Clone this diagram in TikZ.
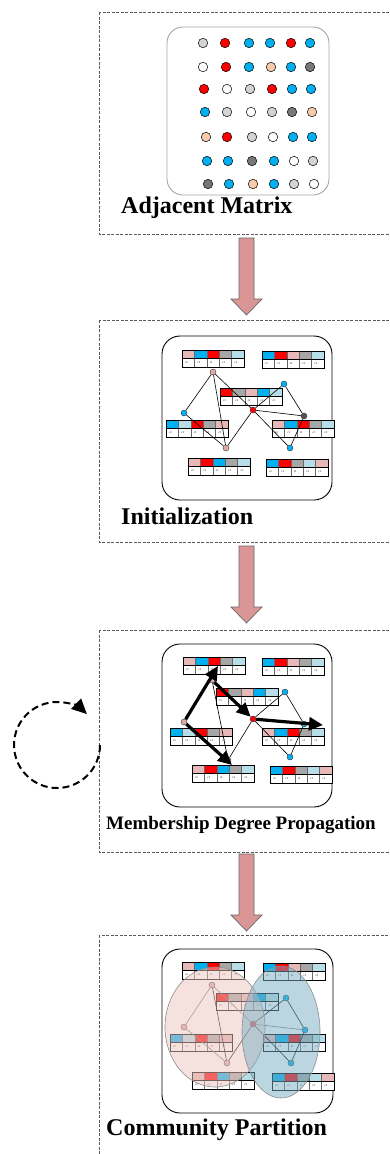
\documentclass[tikz,border=0pt]{standalone}
\usepackage{fontspec}
\setmainfont{Liberation Serif}
\usetikzlibrary{arrows.meta,shapes.geometric}
\definecolor{tpink}{RGB}{230,184,183}
\definecolor{tblue}{RGB}{0,176,240}
\definecolor{tred}{RGB}{255,0,0}
\definecolor{tgray}{RGB}{166,166,166}
\definecolor{tlblue}{RGB}{183,222,232}
\definecolor{dlgray}{RGB}{212,212,212}
\definecolor{ddgray}{RGB}{120,120,120}
\definecolor{dpeach}{RGB}{248,203,173}
\definecolor{arrowfill}{RGB}{217,150,148}
\definecolor{ellpink}{RGB}{236,196,190}
\definecolor{ellblue}{RGB}{120,175,196}
\definecolor{npink}{RGB}{222,170,168}
\definecolor{ndark}{RGB}{85,85,85}
\tikzset{
 dot/.style={circle, draw=black, line width=0.5, inner sep=0, minimum size=9.5pt},
 gnode/.style={circle, draw=black!80, line width=0.4, inner sep=0, minimum size=6pt},
 edge/.style={line width=0.6, draw=black},
 bigedge/.style={line width=3.2, draw=black, -{Triangle[length=14pt,width=13pt]}},
 dbox/.style={draw=black!65, dash pattern=on 3pt off 1.5pt, line width=0.8},
 panel/.style={draw=black, line width=0.9, rounded corners=18pt},
 mpanel/.style={draw=black!35, line width=0.9, rounded corners=16pt},
 lab/.style={font=\bfseries\fontsize{24}{24}\selectfont, anchor=base west, inner sep=0},
 blockarrow/.style={fill=arrowfill, draw=black!60, line width=0.7},
 cellt/.style={font=\fontsize{3}{3}\selectfont, inner sep=0},
 looparrow/.style={line width=2, draw=black, dash pattern=on 7pt off 4pt, -{Triangle[length=15pt,width=14pt]}},
 pics/tbl/.style n args={5}{code={
   \foreach \c [count=\i from 0] in {#1,#2,#3,#4,#5}{
     \path[fill=\c, draw=black!60, line width=0.3] (12.4*\i,0) rectangle ++(12.4,8);
     \path[fill=white, draw=black!60, line width=0.3] (12.4*\i,8) rectangle ++(12.4,9);
     \node[cellt] (-c\i) at (12.4*\i+4.5,12.5) {c1};
   }
   \draw[line width=0.8] (0,0) rectangle (62,17);
   \draw[line width=0.6] (0,8) -- (62,8);
 }},
 pics/bigarrow/.style={code={
   \path[blockarrow] (-7.5,0) -- (7.5,0) -- (7.5,61) -- (15.5,61) -- (0,77) -- (-15.5,61) -- (-7.5,61) -- cycle;
 }}
}
\begin{document}
\begin{tikzpicture}[x=1pt,y=-1pt]
\clip (0,0) rectangle (390,1154);
\fill[white] (0,0) rectangle (390,1154);

% dashed stage boxes
\draw[dbox] (99,12) rectangle (400,234);
\draw[dbox] (99,320) rectangle (400,542);
\draw[dbox] (99,630) rectangle (400,852);
\draw[dbox] (99,935) rectangle (400,1170);

% block arrows
\pic (ba1) at (246.5,238) {bigarrow};
\pic (ba2) at (246.5,546) {bigarrow};
\pic (ba3) at (246.5,854) {bigarrow};

% ---------- Adjacent matrix ----------
\draw[mpanel] (167,27) rectangle (329,195);
\foreach \x/\c [count=\k] in {203/dlgray,225/tred,249/tblue,270/tblue,291/tred,310/tblue}
  \node[dot, fill=\c] (m1\k) at (\x,43) {};
\foreach \x/\c [count=\k] in {203/white,226/tred,249/tblue,271/dpeach,291/tblue,310/ddgray}
  \node[dot, fill=\c] (m2\k) at (\x,67) {};
\foreach \x/\c [count=\k] in {204/tred,227/white,250/dlgray,272/tred,292/tblue,311/tblue}
  \node[dot, fill=\c] (m3\k) at (\x,89) {};
\foreach \x/\c [count=\k] in {205/tblue,227/dlgray,251/white,272/dlgray,292/ddgray,312/dpeach}
  \node[dot, fill=\c] (m4\k) at (\x,112) {};
\foreach \x/\c [count=\k] in {206/dpeach,227/tred,252/dlgray,273/white,293/tblue,312/tblue}
  \node[dot, fill=\c] (m5\k) at (\x,137) {};
\foreach \x/\c [count=\k] in {207/tblue,228/tblue,252/ddgray,274/tblue,294/white,313/dlgray}
  \node[dot, fill=\c] (m6\k) at (\x,161) {};
\foreach \x/\c [count=\k] in {208/ddgray,229/tblue,253/dpeach,274/tblue,294/dlgray,314/white}
  \node[dot, fill=\c] (m7\k) at (\x,184) {};
\node[lab] (lab1) at (121,213) {Adjacent Matrix};

% ---------- Initialization ----------
\draw[panel] (162,336) rectangle (332,500);
\pic (i1) at (182,350) {tbl={tpink}{tblue}{tred}{tgray}{tlblue}};
\pic (i2) at (262,351) {tbl={tblue}{tred}{tpink}{tgray}{tlblue}};
\pic (i3) at (220,388) {tbl={tred}{tgray}{tpink}{tblue}{tlblue}};
\pic (i4) at (166,420) {tbl={tblue}{tlblue}{tred}{tgray}{tpink}};
\pic (i5) at (272,420) {tbl={tpink}{tblue}{tred}{tgray}{tlblue}};
\pic (i6) at (188,458) {tbl={tpink}{tred}{tblue}{tgray}{tlblue}};
\pic (i7) at (266,459) {tbl={tblue}{tred}{tgray}{tlblue}{tpink}};
\node[gnode, fill=npink] (iA) at (213,372) {};
\node[gnode, fill=tblue] (iB) at (284,384) {};
\node[gnode, fill=tblue] (iC) at (184,413) {};
\node[gnode, fill=tred]  (iD) at (253,410) {};
\node[gnode, fill=ndark] (iE) at (304,416) {};
\node[gnode, fill=npink] (iF) at (226,448) {};
\node[gnode, fill=tblue] (iG) at (290,448) {};
\draw[edge] (iA) -- (iC);
\draw[edge] (iA) -- (iF);
\draw[edge] (iA) -- (iD);
\draw[edge] (iC) -- (iF);
\draw[edge] (iD) -- (iF);
\draw[edge] (iD) -- (iE);
\draw[edge] (iD) -- (iG);
\draw[edge] (iB) -- (iD);
\draw[edge] (iB) -- (iE);
\draw[edge] (iE) -- (iG);
\node[lab] (lab2) at (121,524) {Initialization};

% ---------- Membership degree propagation ----------
\draw[panel] (162,644) rectangle (332,807);
\pic (p1) at (183,657) {tbl={tpink}{tblue}{tred}{tgray}{tlblue}};
\pic (p2) at (262,658) {tbl={tblue}{tred}{tpink}{tgray}{tlblue}};
\pic (p3) at (216,688) {tbl={tred}{tgray}{tpink}{tblue}{tlblue}};
\pic (p4) at (170,728) {tbl={tblue}{tlblue}{tred}{tgray}{tpink}};
\pic (p5) at (262,728) {tbl={tpink}{tblue}{tred}{tgray}{tlblue}};
\pic (p6) at (192,765) {tbl={tpink}{tred}{tblue}{tgray}{tlblue}};
\pic (p7) at (270,766) {tbl={tblue}{tred}{tgray}{tlblue}{tpink}};
\node[gnode, fill=npink] (pA) at (212,680) {};
\node[gnode, fill=tblue] (pB) at (285,692) {};
\node[gnode, fill=npink] (pC) at (184,722) {};
\node[gnode, fill=tred]  (pD) at (253,719) {};
\node[gnode, fill=tblue] (pE) at (304,724) {};
\node[gnode, fill=npink] (pF) at (228,760) {};
\node[gnode, fill=tblue] (pG) at (290,757) {};
\draw[edge] (pA) -- (pF);
\draw[edge] (pB) -- (pD);
\draw[edge] (pB) -- (pE);
\draw[edge] (pE) -- (pG);
\draw[edge] (pD) -- (pF);
\draw[edge] (pD) -- (pG);
\coordinate (pAt) at (218,666);
\coordinate (pEt) at (323,725);
\coordinate (pFt) at (232,765);
\draw[bigedge] (pC) -- (pAt);
\draw[bigedge] (pA) -- (pD);
\draw[bigedge] (pD) -- (pEt);
\draw[bigedge] (pC) -- (pFt);
\node[lab, font=\bfseries\fontsize{19}{19}\selectfont] (lab3) at (106,829) {Membership Degree Propagation};

% loop arrow
\coordinate (loopc) at (57,745);
\draw[looparrow] (loopc) ++(0:43) arc[start angle=0, end angle=314, radius=43];

% ---------- Community partition ----------
\draw[panel] (162,949) rectangle (333,1113);
\pic (c1) at (182,962) {tbl={tpink}{tblue}{tred}{tgray}{tlblue}};
\pic (c2) at (263,963) {tbl={tblue}{tred}{tpink}{tgray}{tlblue}};
\pic (c3) at (216,993) {tbl={tred}{tgray}{tpink}{tblue}{tlblue}};
\pic (c4) at (170,1034) {tbl={tblue}{tlblue}{tred}{tgray}{tpink}};
\pic (c5) at (263,1034) {tbl={tpink}{tblue}{tred}{tgray}{tlblue}};
\pic (c6) at (192,1072) {tbl={tpink}{tred}{tblue}{tgray}{tlblue}};
\pic (c7) at (272,1073) {tbl={tblue}{tred}{tgray}{tlblue}{tpink}};
\node[gnode, fill=npink] (cA) at (212,985) {};
\node[gnode, fill=tblue] (cB) at (286,998) {};
\node[gnode, fill=npink] (cC) at (184,1027) {};
\node[gnode, fill=tred]  (cD) at (253,1024) {};
\node[gnode, fill=tblue] (cE) at (305,1030) {};
\node[gnode, fill=npink] (cF) at (227,1063) {};
\node[gnode, fill=tblue] (cG) at (291,1063) {};
\draw[edge, draw=black!55] (cA) -- (cC);
\draw[edge] (cA) -- (cF);
\draw[edge, draw=black!55] (cA) -- (cD);
\draw[edge, draw=black!55] (cC) -- (cF);
\draw[edge] (cD) -- (cF);
\draw[edge, draw=black!55] (cD) -- (cE);
\draw[edge] (cD) -- (cG);
\draw[edge] (cB) -- (cD);
\draw[edge] (cB) -- (cE);
\draw[edge] (cE) -- (cG);
\node[ellipse, draw=black!45, line width=0.6, fill=ellpink, fill opacity=0.5, minimum width=100pt, minimum height=120pt, inner sep=0] (ellL) at (215,1027) {};
\node[ellipse, draw=black!45, line width=0.6, fill=ellblue, fill opacity=0.5, minimum width=78pt, minimum height=132pt, inner sep=0] (ellR) at (281,1032) {};
\node[lab] (lab4) at (106,1135) {Community Partition};
\end{tikzpicture}
\end{document}
